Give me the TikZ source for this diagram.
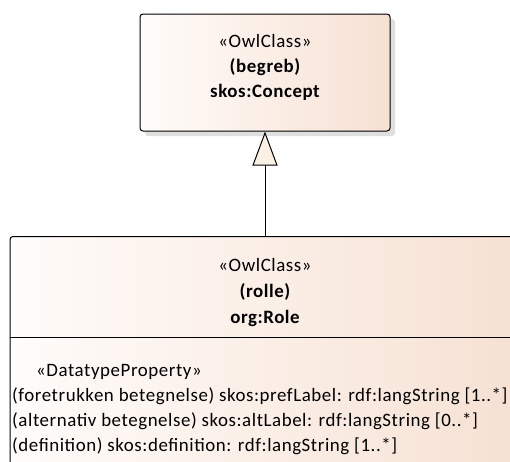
\documentclass[tikz,border=0pt]{standalone}
\usepackage{fontspec}
\setmainfont{Carlito}[LetterSpace=3]
\usetikzlibrary{arrows.meta,shadows}

\definecolor{boxleft}{RGB}{255,252,250}
\definecolor{boxright}{RGB}{246,225,211}
\definecolor{tipfill}{RGB}{250,240,228}

\begin{document}
\begin{tikzpicture}[x=1pt,y=-1pt,
    umltext/.style={font=\fontsize{18.9}{22}\selectfont, inner sep=0pt, text height=13pt, text depth=4pt},
    owlbox/.style={draw, line width=1pt, rounded corners=3pt, left color=boxleft, right color=boxright},
    general/.style={line width=1pt, -{Triangle[length=34pt,width=25pt,fill=tipfill,line width=1pt]}}]
    \useasboundingbox (0,0) rectangle (510,461);
    \clip (0,0) rectangle (510,461);

    % Superclass
    \node[owlbox, minimum width=250pt, minimum height=117pt,
          drop shadow={shadow xshift=5pt, shadow yshift=-5pt, opacity=0.25, fill=black!50}]
          (begreb) at (265,72.5) {};
    \node[umltext] (begrebst) at (265,43) {«OwlClass»};
    \node[umltext] (begrebnm) at (265,68) {\bfseries (begreb)};
    \node[umltext] (begrebid) at (265,93) {\bfseries skos:Concept};

    % Subclass (runs off the page)
    \node[owlbox, minimum width=510pt, minimum height=250pt] (rolle) at (265,361.5) {};
    \node[umltext] (rollest) at (265,267) {«OwlClass»};
    \node[umltext] (rollenm) at (265,293) {\bfseries (rolle)};
    \node[umltext] (rolleid) at (265,319) {\bfseries org:Role};
    \draw[line width=1pt] (rolle.west |- 0,337) -- (rolle.east |- 0,337);

    % Attributes
    \node[umltext, anchor=west] (attst) at (36,372) {«DatatypeProperty»};
    \node[umltext, anchor=west] (att1) at (12,397) {(foretrukken betegnelse) skos:prefLabel: rdf:langString [1..*]};
    \node[umltext, anchor=west] (att2) at (12,422) {(alternativ betegnelse) skos:altLabel: rdf:langString [0..*]};
    \node[umltext, anchor=west] (att3) at (12,447) {(definition) skos:definition: rdf:langString [1..*]};

    % Generalization
    \draw[general] (rolle.north) -- (begreb.south);
\end{tikzpicture}
\end{document}
